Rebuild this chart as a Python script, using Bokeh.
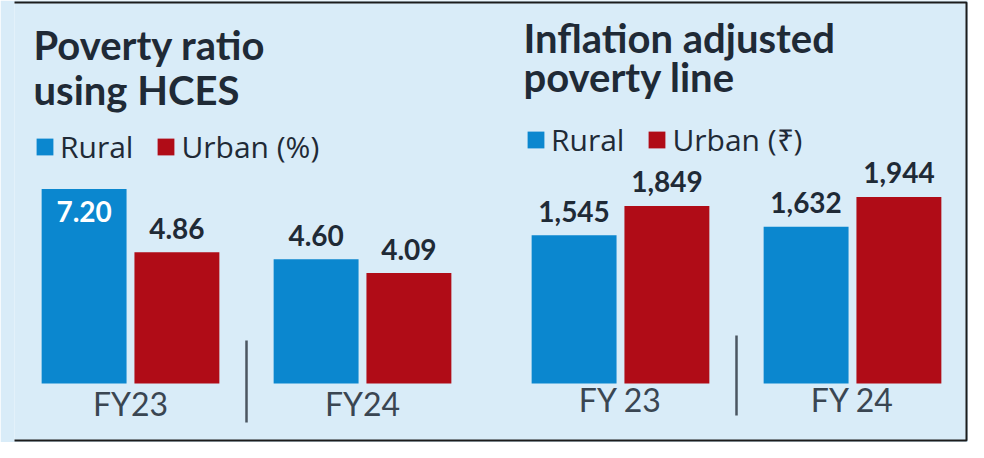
from bokeh.plotting import figure
from bokeh.models import (ColumnDataSource, FactorRange, Range1d, Label, Legend,
                          LegendItem, BoxAnnotation)
from bokeh.transform import dodge
from bokeh.core.properties import value
from bokeh.embed import file_html
from bokeh.resources import INLINE

# ---------------- data ----------------
left_title = ["Poverty ratio", "using HCES"]
right_title = ["Inflation adjusted", "poverty line"]
left_years = ["FY23", "FY24"]
right_years = ["FY 23", "FY 24"]
left_rural = [7.20, 4.60]      # poverty ratio, %
left_urban = [4.86, 4.09]
right_rural = [1545, 1632]     # poverty line, Rs
right_urban = [1849, 1944]
series_names = ["Rural", "Urban"]
left_unit = "(%)"
right_unit = "(\u20b9)"

# ---------------- style ----------------
W, H = 968, 442
PAD_L = 14         # empty strip left of the plotting frame
BG = "#d9ecf8"
BLUE = "#0b87cf"
RED = "#b00c17"
INK = "#1f2a36"
AXIS_INK = "#3a4652"
SEP = "#4b5661"
BASE = 59          # px from bottom of frame to the bar baseline
L_PX = 27.0        # px per percentage point
R_PX = 0.096       # px per rupee
BAR_W = 0.366
OFF = 0.2
TITLE_FONT = "Lato"
LEGEND_FONT = "Open Sans"
AXIS_FONT = "Lato"

lx = [("L", y) for y in left_years]
rx = [("R", y) for y in right_years]

x_range = FactorRange(factors=lx + rx, factor_padding=0.0, group_padding=0.112,
                      range_padding=0.0, range_padding_units="absolute")
y_range = Range1d(start=-BASE / L_PX, end=(H - BASE) / L_PX)

p = figure(width=W, height=H, x_range=x_range, y_range=y_range,
           output_backend="svg", toolbar_location=None,
           x_axis_location=None, y_axis_location=None, min_border=0,
           min_border_left=PAD_L,
           background_fill_color=BG, border_fill_color=BG,
           outline_line_color=None)
p.extra_y_ranges = {"line": Range1d(start=-BASE / R_PX, end=(H - BASE) / R_PX)}
p.grid.visible = False

# outer frame of the graphic
p.add_layout(BoxAnnotation(left=-PAD_L + 2, right=W - PAD_L - 2, bottom=2, top=H - 2,
                           left_units="screen", right_units="screen",
                           bottom_units="screen", top_units="screen",
                           fill_alpha=0, line_color="#1c1c1c", line_width=2,
                           line_alpha=1, level="overlay"))


def make_src(xs, vals, fmt, px):
    inside = [v * px >= 190 for v in vals]
    return ColumnDataSource(dict(
        x=xs, v=vals, lbl=[fmt(v) for v in vals],
        lcol=["white" if i else INK for i in inside],
        loff=[22 if i else -24 for i in inside],
    ))


fmt_ratio = lambda v: f"{v:.2f}"
fmt_line = lambda v: f"{v:,}"

panels = [
    (lx, left_rural, left_urban, fmt_ratio, L_PX, "default"),
    (rx, right_rural, right_urban, fmt_line, R_PX, "line"),
]
renderers = []
for xs, rural, urban, fmt, px, rng in panels:
    rr = []
    for vals, col, off in ((rural, BLUE, -OFF), (urban, RED, OFF)):
        src = make_src(xs, vals, fmt, px)
        r = p.vbar(x=dodge("x", off, range=p.x_range), top="v", width=BAR_W,
                   source=src, fill_color=col, line_color=None, y_range_name=rng)
        p.text(x=dodge("x", off, range=p.x_range), y="v", text="lbl", source=src,
               y_range_name=rng, text_align="center", text_baseline="alphabetic",
               y_offset="loff", text_color="lcol", text_font=value(TITLE_FONT),
               text_font_style="bold", text_font_size="28px")
        rr.append(r)
    renderers.append(rr)

# category labels
cat_src = ColumnDataSource(dict(x=lx + rx, lbl=left_years + right_years,
                                off=[20, 20, 16, 16]))
p.text(x="x", y=0, text="lbl", source=cat_src, text_align="center",
       text_baseline="alphabetic", y_offset="off", text_color=AXIS_INK,
       text_font=value(AXIS_FONT), text_font_size="32px")

# group separators
p.segment(x0=dodge("x", -0.5, range=p.x_range), x1=dodge("x", -0.5, range=p.x_range),
          y0=-39 / L_PX, y1=43 / L_PX, source=ColumnDataSource(dict(x=[lx[1]])),
          line_color=SEP, line_width=2.5)
p.segment(x0=dodge("x", -0.5, range=p.x_range), x1=dodge("x", -0.5, range=p.x_range),
          y0=-32 / R_PX, y1=48 / R_PX, source=ColumnDataSource(dict(x=[rx[1]])),
          y_range_name="line", line_color=SEP, line_width=2.5)

# titles
for lines, x, ys in ((left_title, 33 - PAD_L, (398, 353)),
                     (right_title, 523 - PAD_L, (405, 366))):
    for t, y in zip(lines, ys):
        p.add_layout(Label(x=x, y=y, x_units="screen", y_units="screen", text=t,
                           text_font=TITLE_FONT, text_font_style="bold",
                           text_font_size="40px", text_color=INK,
                           text_baseline="alphabetic"))

# legends
for (rr, unit, loc) in ((renderers[0], left_unit, (34 - PAD_L, 275)),
                        (renderers[1], right_unit, (525 - PAD_L, 282))):
    lg = Legend(items=[LegendItem(label=series_names[0], renderers=[rr[0]]),
                       LegendItem(label=f"{series_names[1]} {unit}", renderers=[rr[1]])],
                orientation="horizontal", location=loc,
                glyph_width=21, glyph_height=21, label_standoff=5, spacing=22,
                padding=0, margin=0, background_fill_alpha=0, border_line_color=None,
                label_text_font=LEGEND_FONT, label_text_font_size="30px",
                label_text_color=INK)
    p.add_layout(lg)

open("out.html", "w").write(file_html(p, INLINE))
